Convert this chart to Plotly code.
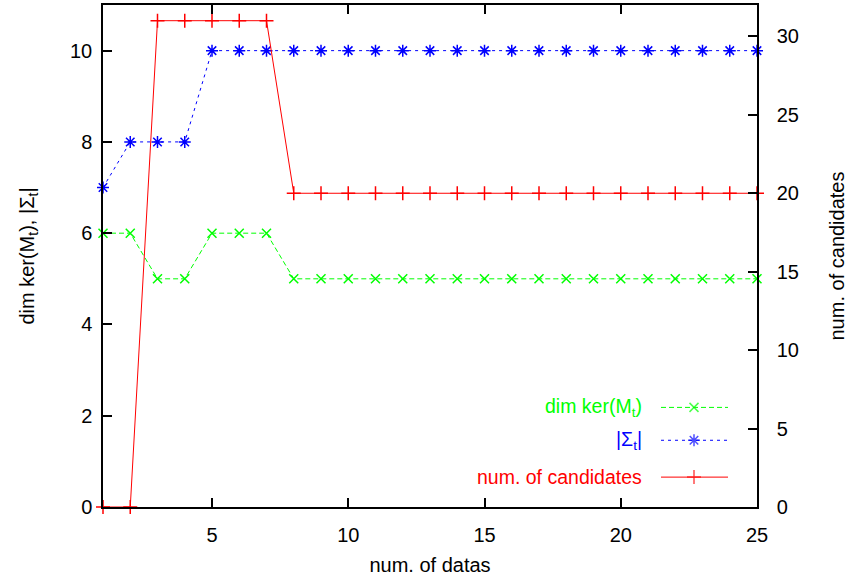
import plotly.graph_objects as go

x_vals = list(range(1, 26))
dim_ker = [6, 6, 5, 5, 6, 6, 6] + [5] * 18
sigma = [7, 8, 8, 8] + [10] * 21
candidates = [0, 0, 31, 31, 31, 31, 31] + [20] * 18

names = ["dim ker(M<sub>t</sub>)", "|Σ<sub>t</sub>|", "num. of candidates"]
colors = ["#00ff00", "#0000ff", "#ff0000"]
symbols = ["x-thin-open", "asterisk-open", "cross-thin-open"]
dashes = ["5px,3px", "3px,4px", "solid"]
msizes = [9, 10, 10]

FONT = "Liberation Sans, Arial, sans-serif"
FS = 20
W, H = 853, 588
L, R, T, B = 103, 96, 3, 81
pw, ph = W - L - R, H - T - B

fig = go.Figure()
series = [dim_ker, sigma, candidates]
yaxes = ["y", "y", "y2"]
for i in range(3):
    fig.add_trace(go.Scatter(x=x_vals, y=series[i], mode="lines+markers", yaxis=yaxes[i],
                             line=dict(color=colors[i], width=1, dash=dashes[i]),
                             marker=dict(symbol=symbols[i], size=msizes[i], color=colors[i],
                                         line=dict(width=1.5, color=colors[i])),
                             cliponaxis=False, showlegend=False))

# manual gnuplot-style legend (text on left, sample on right)
def px_x(p):
    return (p - L) / pw

def px_y(p):
    return (H - B - p) / ph

rows = [407, 440, 477]
for i in range(3):
    yy = px_y(rows[i])
    fig.add_trace(go.Scatter(x=[px_x(661), px_x(694), px_x(728)], y=[yy, yy, yy],
                             xaxis="x3", yaxis="y3", mode="lines+markers",
                             line=dict(color=colors[i], width=1, dash=dashes[i]),
                             marker=dict(symbol=symbols[i], size=[0, msizes[i], 0],
                                         color=colors[i], line=dict(width=1.5, color=colors[i])),
                             cliponaxis=False, showlegend=False, hoverinfo="skip"))
    fig.add_annotation(x=px_x(644), y=yy, xref="paper", yref="paper", xanchor="right",
                       yanchor="middle", text=names[i], showarrow=False,
                       font=dict(family=FONT, size=19.5, color=colors[i]))

axis_common = dict(showline=True, linecolor="black", linewidth=1.5, ticks="inside",
                   ticklen=9, tickwidth=1.5, tickcolor="black", showgrid=False, zeroline=False,
                   tickfont=dict(family=FONT, size=FS, color="black"))
title_font = dict(family=FONT, size=FS, color="black")

fig.update_layout(
    width=W, height=H, margin=dict(l=L, r=R, t=T, b=B),
    plot_bgcolor="white", paper_bgcolor="white",
    xaxis=dict(range=[1, 25], tickvals=[5, 10, 15, 20, 25], mirror="ticks", ticklabelstandoff=9,
               title=dict(text="num. of datas", font=title_font, standoff=13),
               **axis_common),
    yaxis=dict(range=[0, 11], tickvals=[0, 2, 4, 6, 8, 10], ticklabelstandoff=5,
               title=dict(text="dim ker(M<sub>t</sub>), |Σ<sub>t</sub>|", font=title_font, standoff=30),
               **axis_common),
    yaxis2=dict(range=[0, 32], tickvals=[0, 5, 10, 15, 20, 25, 30], overlaying="y", side="right",
                ticklabelstandoff=14,
                title=dict(text="num. of candidates", font=title_font, standoff=32),
                **axis_common),
    xaxis3=dict(range=[0, 1], domain=[0, 1], visible=False, overlaying="x"),
    yaxis3=dict(range=[0, 1], domain=[0, 1], visible=False, overlaying="y", anchor="x3"),
)

fig.write_html("out.html")
